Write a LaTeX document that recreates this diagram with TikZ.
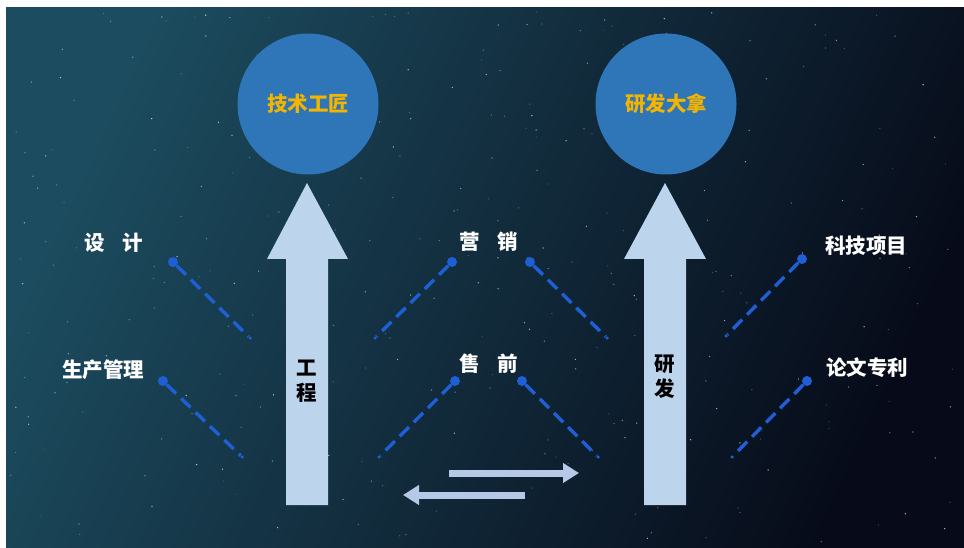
\documentclass[tikz,border=0pt]{standalone}
\usepackage{fontspec}
\setmainfont{Noto Sans CJK SC}
\usetikzlibrary{arrows.meta}

\definecolor{skytop}{HTML}{1C4C5F}
\definecolor{skymid}{HTML}{0E2638}
\definecolor{skybot}{HTML}{070B19}
\definecolor{ballblue}{HTML}{2F76B8}
\definecolor{ballgold}{HTML}{F4B400}
\definecolor{shaftblue}{HTML}{BDD5EC}
\definecolor{flowblue}{HTML}{B5C8E6}
\definecolor{dashblue}{HTML}{1E5FD6}

\tikzset{
  label/.style={text=white,font=\bfseries\fontsize{20.5}{24}\selectfont},
  bigarrow/.style={fill=shaftblue},
  flow/.style={draw=flowblue,line width=7pt,-{Triangle[length=16pt,width=19pt]}},
  link/.style={draw=dashblue,line width=3.4pt,dash pattern=on 13pt off 7pt}
}

\begin{document}
\begin{tikzpicture}[x=1pt,y=-1pt]

      \useasboundingbox (0,0) rectangle (964,548);
      \fill[white] (0,0) rectangle (964,548);
      \shade[top color=skytop,middle color=skymid,bottom color=skybot,shading angle=65]
        (6,8) rectangle (964,548);

      % stars
      \pgfmathsetseed{11}
      \foreach \i in {1,...,320} {
        \pgfmathsetmacro{\sx}{rnd*950+10}
        \pgfmathsetmacro{\sy}{rnd*530+12}
        \pgfmathsetmacro{\so}{rnd*0.6+0.15}
        \fill[white,opacity=\so] (\sx,\sy) circle (0.7);
      }

      \begin{scope}[every node/.style={circle,fill=ballblue,minimum size=141pt,inner sep=0pt,
          text=ballgold,font=\bfseries\fontsize{20.5}{24}\selectfont}]
        \node (craft)  at (308,104) {技术工匠};
        \node (master) at (666,104) {研发大拿};
      \end{scope}

      \fill[bigarrow] (286,505) -- (286,259) -- (267,259) -- (307,183)
        -- (348,259) -- (328,259) -- (328,505) -- cycle;
      \fill[bigarrow] (644,505) -- (644,259) -- (624,259) -- (665,183)
        -- (706,259) -- (686,259) -- (686,505) -- cycle;

      \begin{scope}[every node/.style={align=center,font=\bfseries\fontsize{20.5}{25}\selectfont}]
        \node (eng) at (307,381) {工\\程};
        \node (rnd) at (665,377) {研\\发};
      \end{scope}

      \begin{scope}[every node/.style={label}]
        \node (design)  at (114,243) {设\hspace{0.85em}计};
        \node (produce) at (103,370) {生产管理};
        \node (market)  at (489,242) {营\hspace{0.85em}销};
        \node (presale) at (489,364) {售\hspace{0.85em}前};
        \node (project) at (866,246) {科技项目};
        \node (paper)   at (867,368) {论文专利};
      \end{scope}

      \begin{scope}[every node/.style={circle,fill=dashblue,inner sep=0pt}]
        \node[minimum size=10pt] (d1) at (173,262) {};
        \node[minimum size=10pt] (d2) at (163,381) {};
        \node[minimum size=10pt] (d3) at (452,262) {};
        \node[minimum size=10pt] (d4) at (530,262) {};
        \node[minimum size=10pt] (d5) at (455,381) {};
        \node[minimum size=10pt] (d6) at (522,381) {};
        \node[minimum size=10pt] (d7) at (802,259) {};
        \node[minimum size=10pt] (d8) at (807,381) {};
        \node[minimum size=3.5pt] (e1) at (250,338) {};
        \node[minimum size=3.5pt] (e2) at (242,457) {};
        \node[minimum size=3.5pt] (e3) at (375,338) {};
        \node[minimum size=3.5pt] (e4) at (607,338) {};
        \node[minimum size=3.5pt] (e5) at (379,457) {};
        \node[minimum size=3.5pt] (e6) at (598,457) {};
        \node[minimum size=3.5pt] (e7) at (726,336) {};
        \node[minimum size=3.5pt] (e8) at (732,457) {};
      \end{scope}

      \foreach \k in {1,...,8}
        \path (d\k) edge[link] (e\k);

      \coordinate (fwd-a) at (449,473);
      \coordinate (fwd-b) at (579,473);
      \coordinate (back-a) at (525,495);
      \coordinate (back-b) at (403,495);
      \path (fwd-a) edge[flow] (fwd-b);
      \path (back-a) edge[flow] (back-b);

    \end{tikzpicture}
\end{document}
